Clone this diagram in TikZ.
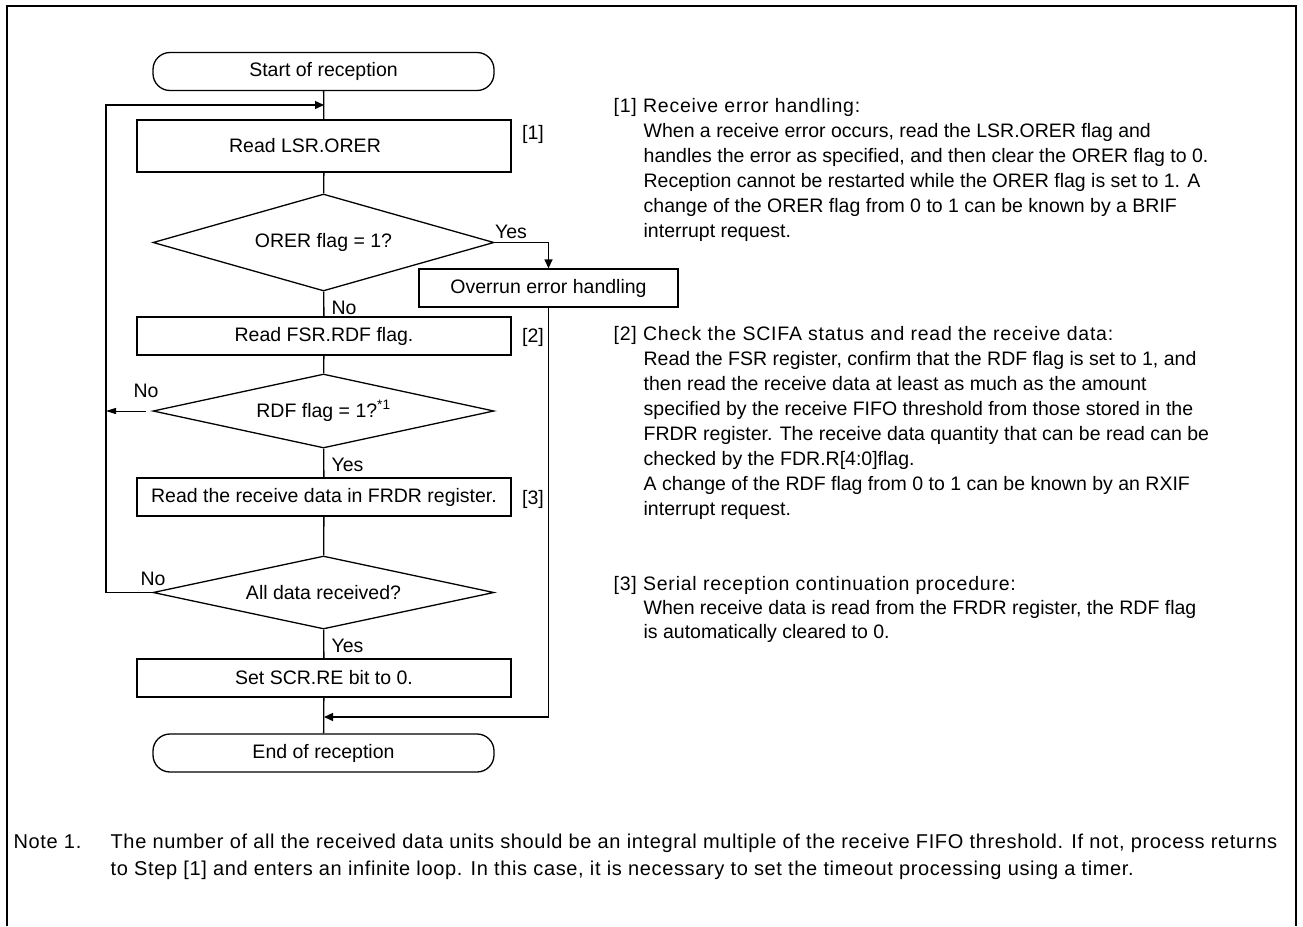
\documentclass[tikz,border=0pt]{standalone}
\usepackage{fontspec}
\setmainfont{Liberation Sans}
\newfontfamily\headfont[LetterSpace=4]{Liberation Sans}
\newfontfamily\notefont[LetterSpace=3.2]{Liberation Sans}
\usetikzlibrary{arrows.meta,shapes.geometric}
\begin{document}
\begin{tikzpicture}[x=1pt,y=-1pt,line width=1.3pt,
  fc/.style={font=\fontsize{19.5}{23}\selectfont},
  procbox/.style={draw,rectangle,minimum width=374pt,minimum height=38pt,inner sep=0pt,fc},
  termbox/.style={draw,rectangle,rounded corners=17pt,minimum width=341pt,minimum height=38pt,inner sep=0pt,fc},
  decbox/.style={draw,diamond,aspect=4,minimum width=341pt,inner sep=0pt,fc},
  lbl/.style={inner sep=0pt,fc},
  rt/.style={anchor=base west,inner sep=0pt,font=\fontsize{19.5}{24}\selectfont},
  rh/.style={anchor=base west,inner sep=0pt,font=\headfont\fontsize{19.5}{24}\selectfont},
  nt/.style={anchor=base west,inner sep=0pt,font=\notefont\fontsize{20}{24}\selectfont},
  arr/.style={-{Triangle[length=9pt,width=8pt]}},
  sarr/.style={line width=1pt,-{Triangle[length=10pt,width=6pt]}}]
\useasboundingbox (0,0) rectangle (1303,926);
% frame
\draw[line width=2pt] (7,926) -- (7,6) -- (1296,6) -- (1296,926);

% flowchart nodes
\node[termbox] (start) at (323.5,71.5) {Start of reception};
\node[procbox,minimum height=52pt] (box1) at (324,146) {\hspace*{-38pt}Read LSR.ORER};
\node[decbox,minimum height=97pt] (d1) at (323.5,242.5) {ORER flag = 1?};
\node[draw,rectangle,minimum width=259pt,minimum height=38pt,inner sep=0pt,fc] (over) at (548.5,288) {Overrun error handling};
\node[procbox] (box2) at (324,336) {Read FSR.RDF flag.};
\node[decbox,minimum height=74pt] (d2) at (323.5,411) {RDF flag = 1?\textsuperscript{*1}};
\node[procbox] (box3) at (324,497) {Read the receive data in FRDR register.};
\node[decbox,minimum height=73pt] (d3) at (323.5,592.5) {All data received?};
\node[procbox] (box4) at (324,678) {Set SCR.RE bit to 0.};
\node[termbox] (end) at (323.5,753) {End of reception};

% step tags
\node[lbl] (t1) at (533,134) {[1]};
\node[lbl] (t2) at (533,337) {[2]};
\node[lbl] (t3) at (533,499) {[3]};

% branch labels
\node[lbl] (y1) at (511,232) {Yes};
\node[lbl,anchor=west] (n1) at (331,308) {No};
\node[lbl,anchor=west] (n2) at (133,391) {No};
\node[lbl,anchor=west] (y2) at (331,465) {Yes};
\node[lbl,anchor=west] (n3) at (140,579) {No};
\node[lbl,anchor=west] (y3) at (331,646) {Yes};

% helper coordinates
\coordinate (join1) at (324,105);
\coordinate (loopT) at (106,105);
\coordinate (loopB) at (106,592.5);
\coordinate (yesR) at (548.5,242.5);
\coordinate (ovB) at (548.5,717);
\coordinate (join2) at (324,717);
\coordinate (n2s) at (146,411);
\coordinate (n2e) at (106,411);

% connectors
\draw (start) -- (box1);
\draw (box1) -- (d1);
\draw (d1) -- (box2);
\draw (box2) -- (d2);
\draw (d2) -- (box3);
\draw (box3) -- (d3);
\draw (d3) -- (box4);
\draw (box4) -- (end);
\draw[arr] (d1.east) -- (yesR) -- (over.north);
\draw[arr] (over.south) -- (ovB) -- (join2);
\draw[arr] (d3.west) -- (loopB) -- (loopT) -- (join1);
\draw[sarr] (n2s) -- (n2e);

% explanations
\node[rh] (a0) at (613,112) {[1] Receive error handling:};
\node[rt] (a1) at (643,137) {When a receive error occurs, read the LSR.ORER flag and};
\node[rt] (a2) at (643,162) {handles the error as specified, and then clear the ORER flag to 0.};
\node[rt] (a3) at (643,187) {Reception cannot be restarted while the ORER flag is set to 1. A};
\node[rt] (a4) at (643,212) {change of the ORER flag from 0 to 1 can be known by a BRIF};
\node[rt] (a5) at (643,237) {interrupt request.};

\node[rh] (b0) at (613,340) {[2] Check the SCIFA status and read the receive data:};
\node[rt] (b1) at (643,365) {Read the FSR register, confirm that the RDF flag is set to 1, and};
\node[rt] (b2) at (643,390) {then read the receive data at least as much as the amount};
\node[rt] (b3) at (643,415) {specified by the receive FIFO threshold from those stored in the};
\node[rt] (b4) at (643,440) {FRDR register. The receive data quantity that can be read can be};
\node[rt] (b5) at (643,465) {checked by the FDR.R[4:0]flag.};
\node[rt] (b6) at (643,490) {A change of the RDF flag from 0 to 1 can be known by an RXIF};
\node[rt] (b7) at (643,515) {interrupt request.};

\node[rh] (c0) at (613,590) {[3] Serial reception continuation procedure:};
\node[rt] (c1) at (643,614) {When receive data is read from the FRDR register, the RDF flag};
\node[rt] (c2) at (643,638) {is automatically cleared to 0.};

\node[nt] (m0) at (13,848) {Note 1.};
\node[nt] (m1) at (110,848) {The number of all the received data units should be an integral multiple of the receive FIFO threshold. If not, process returns};
\node[nt] (m2) at (110,875) {to Step [1] and enters an infinite loop. In this case, it is necessary to set the timeout processing using a timer.};
\end{tikzpicture}
\end{document}
